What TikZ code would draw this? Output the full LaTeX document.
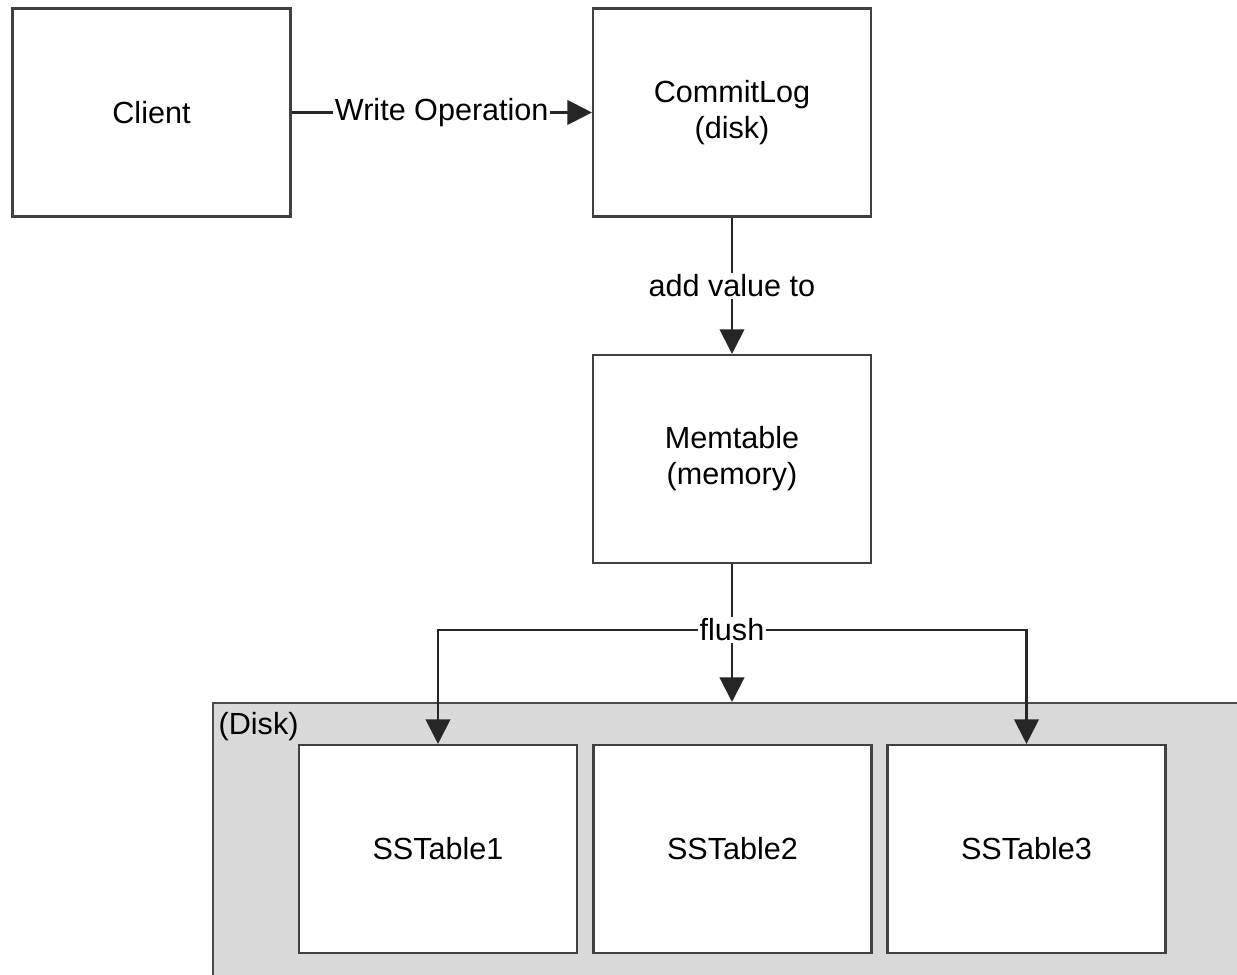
\documentclass[tikz,border=0pt]{standalone}
\usepackage{fontspec}
\setmainfont{Liberation Sans}
\usetikzlibrary{arrows.meta}
\definecolor{diskgray}{RGB}{217,217,217}
\tikzset{
  box/.style={draw=black!75, line width=0.6pt, fill=white, minimum width=2.78cm, minimum height=2.08cm, align=center},
  arr/.style={draw=black!85, line width=0.6pt, -{Triangle[width=7pt,length=7pt]}},
  lbl/.style={fill=white, inner sep=0.5pt}
}
\begin{document}
\begin{tikzpicture}[font=\fontsize{8.7}{10.3}\selectfont]
\clip (0,0) rectangle (12.37,9.75);
\fill[white] (0,0) rectangle (12.37,9.75);
% disk area
\node[draw=black!70, line width=0.6pt, fill=diskgray, anchor=north west, minimum width=10.6cm, minimum height=3cm] (disk) at (2.12,2.73) {};
\node[anchor=north west, inner sep=0pt] (disklbl) at (2.18,2.63) {(Disk)};
\node[box] (client) at (1.515,8.625) {Client};
\node[box] (log) at (7.32,8.625) {CommitLog\\(disk)};
\node[box] (mem) at (7.32,5.16) {Memtable\\(memory)};
\node[box] (ss1) at (4.38,1.26) {SSTable1};
\node[box] (ss2) at (7.325,1.26) {SSTable2};
\node[box] (ss3) at (10.265,1.26) {SSTable3};
\draw[arr] (client) -- node[lbl] {Write Operation} (log);
\draw[arr] (log) -- node[lbl] {add value to} (mem);
% flush to the sstables
\coordinate (split) at (mem.south |- 0,3.45);
\draw[arr] (mem.south) -- (mem.south |- disk.north);
\draw[arr] (split) -| (ss1.north);
\draw[arr] (split) -| (ss3.north);
\node[lbl] at (split) {flush};
\end{tikzpicture}
\end{document}
